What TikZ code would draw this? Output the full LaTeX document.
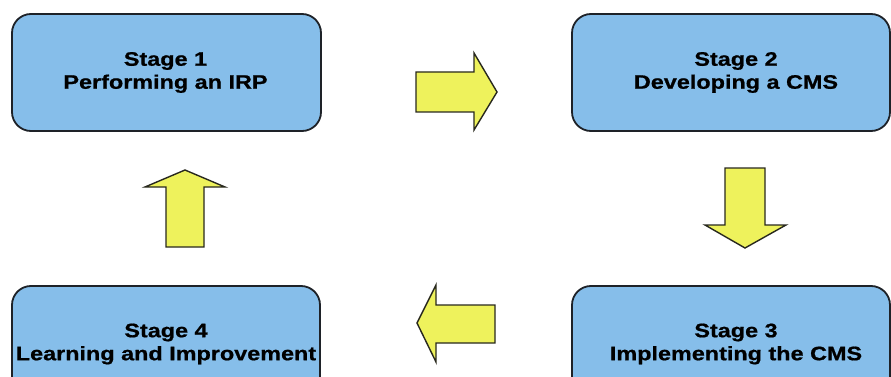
\documentclass[tikz,border=0pt]{standalone}
\usepackage{fontspec}
\setmainfont{Liberation Sans}[FakeStretch=1.2, BoldFeatures={FakeBold=0.8}]
\definecolor{stagefill}{RGB}{134,190,234}
\definecolor{stageline}{RGB}{30,34,40}
\definecolor{arrowfill}{RGB}{238,242,92}
\definecolor{arrowline}{RGB}{40,40,30}
\tikzset{
  stagebox/.style={draw=stageline, line width=1.8pt, fill=stagefill,
    rounded corners=19pt, inner sep=0pt},
  stagetext/.style={align=center, inner sep=0pt, text=black,
    font=\fontsize{19.5}{23}\selectfont\bfseries},
  blockarrow/.style={draw=arrowline, line width=1.4pt, fill=arrowfill,
    line join=miter}
}
\begin{document}
\begin{tikzpicture}[x=1pt, y=-1pt]
  \clip (0,0) rectangle (891,377);
  \fill[white] (0,0) rectangle (891,377);

  % stage boxes
  \node[stagebox, minimum width=309pt, minimum height=117pt] (s1) at (166.5,72.5) {};
  \node[stagebox, minimum width=318pt, minimum height=117pt] (s2) at (731,72.5) {};
  \node[stagebox, minimum width=318pt, minimum height=116pt] (s3) at (731,344) {};
  \node[stagebox, minimum width=308pt, minimum height=116pt] (s4) at (166,344) {};

  % stage captions
  \node[stagetext] (t1) at ([xshift=-1pt]s1.center) {Stage 1\\Performing an IRP};
  \node[stagetext] (t2) at ([xshift=5pt]s2.center) {Stage 2\\Developing a CMS};
  \node[stagetext] (t3) at ([xshift=5pt]s3.center) {Stage 3\\Implementing the CMS};
  \node[stagetext] (t4) at (s4.center) {Stage 4\\Learning and Improvement};

  % block arrows between the stages
  \draw[blockarrow] (416,72) -- (474,72) -- (474,53) -- (497,92) -- (474,130)
    -- (474,112) -- (416,112) -- cycle;
  \draw[blockarrow] (725,168) -- (765,168) -- (765,225) -- (786,225) -- (745,248)
    -- (705,225) -- (725,225) -- cycle;
  \draw[blockarrow] (417,323) -- (436,285) -- (436,305) -- (495,305) -- (495,343)
    -- (436,343) -- (436,362) -- cycle;
  \draw[blockarrow] (185,170) -- (225,187) -- (204,187) -- (204,247) -- (166,247)
    -- (166,187) -- (145,187) -- cycle;
\end{tikzpicture}
\end{document}
